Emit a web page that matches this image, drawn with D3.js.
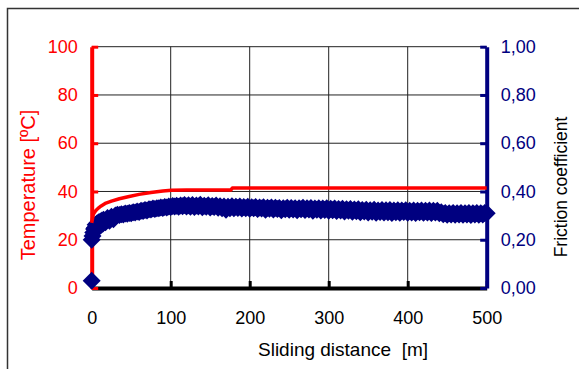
<!DOCTYPE html>
<html>
<head>
<meta charset="utf-8">
<script src="https://cdn.jsdelivr.net/npm/d3@7/dist/d3.min.js"></script>
<style>
  html, body { margin: 0; padding: 0; background: #fff; }
  svg { display: block; font-family: "Liberation Sans", Arial, sans-serif; }
</style>
</head>
<body>
<svg id="chart" width="579" height="369"></svg>
<script>
// Tick values for the three axes
const distanceTicks = [0, 100, 200, 300, 400, 500];
const temperatureTicks = [0, 20, 40, 60, 80, 100];
const frictionTicks = [0, 0.2, 0.4, 0.6, 0.8, 1.0];

// Temperature reading along the sliding distance
const tempDistance = [0, 2, 5, 8, 12, 18, 25, 35, 46, 60, 75, 90, 101, 120, 150, 176, 178, 250, 350, 450, 500];
const temperature  = [27, 30.5, 32, 33, 34, 35.2, 36, 37, 37.8, 38.8, 39.6, 40.2, 40.5, 40.6, 40.6, 40.6, 41.4, 41.4, 41.4, 41.4, 41.4];

// Friction coefficient samples along the sliding distance (running-in, then 2.5 m steps)
const frictionDistance = [
  0, 0, 1, 2, 3, 4, 5, 6, 7, 8, 9, 10, 11, 12, 13, 14, 15, 17.5, 20, 22.5, 25, 27.5,
  30, 32.5, 35, 37.5, 40, 42.5, 45, 47.5,
  50, 52.5, 55, 57.5, 60, 62.5, 65, 67.5,
  70, 72.5, 75, 77.5, 80, 82.5, 85, 87.5,
  90, 92.5, 95, 97.5, 100, 102.5, 105, 107.5,
  110, 112.5, 115, 117.5, 120, 122.5, 125, 127.5,
  130, 132.5, 135, 137.5, 140, 142.5, 145, 147.5,
  150, 152.5, 155, 157.5, 160, 162.5, 165, 167.5,
  170, 172.5, 175, 177.5, 180, 182.5, 185, 187.5,
  190, 192.5, 195, 197.5, 200, 202.5, 205, 207.5,
  210, 212.5, 215, 217.5, 220, 222.5, 225, 227.5,
  230, 232.5, 235, 237.5, 240, 242.5, 245, 247.5,
  250, 252.5, 255, 257.5, 260, 262.5, 265, 267.5,
  270, 272.5, 275, 277.5, 280, 282.5, 285, 287.5,
  290, 292.5, 295, 297.5, 300, 302.5, 305, 307.5,
  310, 312.5, 315, 317.5, 320, 322.5, 325, 327.5,
  330, 332.5, 335, 337.5, 340, 342.5, 345, 347.5,
  350, 352.5, 355, 357.5, 360, 362.5, 365, 367.5,
  370, 372.5, 375, 377.5, 380, 382.5, 385, 387.5,
  390, 392.5, 395, 397.5, 400, 402.5, 405, 407.5,
  410, 412.5, 415, 417.5, 420, 422.5, 425, 427.5,
  430, 432.5, 435, 437.5, 440, 442.5, 445, 447.5,
  450, 452.5, 455, 457.5, 460, 462.5, 465, 467.5,
  470, 472.5, 475, 477.5, 480, 482.5, 485, 487.5,
  490, 492.5, 495, 497.5, 500
];
const friction = [
  0.03, 0.20, 0.215, 0.23, 0.245, 0.25, 0.262, 0.245, 0.268, 0.252, 0.272, 0.258, 0.276, 0.262, 0.28, 0.266, 0.283, 0.272, 0.29, 0.279, 0.295, 0.285,
  0.300, 0.304, 0.303, 0.306, 0.305, 0.309, 0.308, 0.311,
  0.310, 0.314, 0.313, 0.317, 0.315, 0.320, 0.319, 0.323,
  0.321, 0.326, 0.325, 0.329, 0.327, 0.331, 0.330, 0.334,
  0.332, 0.336, 0.334, 0.338, 0.336, 0.340, 0.338, 0.341,
  0.337, 0.342, 0.339, 0.344, 0.338, 0.343, 0.337, 0.344,
  0.336, 0.342, 0.338, 0.345, 0.335, 0.341, 0.337, 0.343,
  0.334, 0.340, 0.336, 0.342, 0.333, 0.339, 0.330, 0.338,
  0.324, 0.337, 0.331, 0.339, 0.330, 0.337, 0.332, 0.338,
  0.329, 0.336, 0.331, 0.337, 0.328, 0.335, 0.330, 0.336,
  0.327, 0.334, 0.329, 0.335, 0.324, 0.333, 0.328, 0.334,
  0.325, 0.333, 0.327, 0.332, 0.322, 0.331, 0.326, 0.333,
  0.324, 0.332, 0.325, 0.331, 0.322, 0.330, 0.326, 0.333,
  0.323, 0.331, 0.325, 0.332, 0.320, 0.329, 0.324, 0.331,
  0.321, 0.329, 0.323, 0.330, 0.320, 0.328, 0.322, 0.329,
  0.319, 0.327, 0.321, 0.328, 0.317, 0.326, 0.320, 0.327,
  0.316, 0.325, 0.318, 0.326, 0.314, 0.323, 0.317, 0.324,
  0.313, 0.322, 0.316, 0.324, 0.312, 0.321, 0.315, 0.323,
  0.313, 0.322, 0.314, 0.323, 0.311, 0.321, 0.314, 0.322,
  0.312, 0.321, 0.315, 0.322, 0.312, 0.320, 0.313, 0.321,
  0.311, 0.320, 0.314, 0.321, 0.312, 0.320, 0.313, 0.321,
  0.311, 0.320, 0.313, 0.320, 0.310, 0.314, 0.306, 0.311,
  0.304, 0.310, 0.305, 0.311, 0.304, 0.310, 0.305, 0.311,
  0.304, 0.310, 0.305, 0.311, 0.303, 0.310, 0.305, 0.311,
  0.304, 0.310, 0.305, 0.311, 0.310
];

const W = 579, H = 369;
const margin = { top: 46.7, right: 92.3, bottom: 81, left: 91.7 };
const RED = "#ff0000", NAVY = "#000080";
const FONT = "'Liberation Sans', Arial, sans-serif";

const svg = d3.select("#chart");

const x = d3.scaleLinear().domain([0, 500]).range([margin.left, W - margin.right]);
const yT = d3.scaleLinear().domain([0, 100]).range([H - margin.bottom, margin.top]);
const yF = d3.scaleLinear().domain([0, 1]).range([H - margin.bottom, margin.top]);

const comma = d3.formatLocale({ decimal: ",", thousands: ".", grouping: [3], currency: ["", ""] });
const fmtF = comma.format(".2f");

// Outer frame (left and top edges)
svg.append("path")
  .attr("d", `M7.5,${H} V8.5 H${W}`)
  .attr("fill", "none").attr("stroke", "#333").attr("stroke-width", 1.5);

// Gridlines
const grid = svg.append("g").attr("stroke", "#222").attr("stroke-width", 1);
grid.selectAll("line.h").data(temperatureTicks.filter(d => d > 0)).join("line")
  .attr("x1", x(0)).attr("x2", x(500))
  .attr("y1", d => yT(d)).attr("y2", d => yT(d));
grid.selectAll("line.v").data(distanceTicks.filter(d => d > 0 && d < 500)).join("line")
  .attr("y1", yT(0)).attr("y2", yT(100))
  .attr("x1", d => x(d)).attr("x2", d => x(d));

// Bottom axis (sliding distance)
const xAxis = svg.append("g")
  .attr("transform", `translate(0,${yT(0)})`)
  .call(d3.axisBottom(x).tickValues(distanceTicks).tickFormat(d3.format("d"))
    .tickSizeInner(-7).tickSizeOuter(0).tickPadding(23.5));
xAxis.select(".domain").attr("stroke", "#000").attr("stroke-width", 4);
xAxis.selectAll(".tick line").attr("stroke", "#000").attr("stroke-width", 3);
xAxis.selectAll(".tick text").attr("fill", "#000").style("font-size", "18px").style("font-family", FONT);

// Left axis (temperature)
const yAxisL = svg.append("g")
  .attr("transform", `translate(${x(0)},0)`)
  .call(d3.axisLeft(yT).tickValues(temperatureTicks).tickFormat(d3.format("d"))
    .tickSizeInner(-6.5).tickSizeOuter(0).tickPadding(14));
yAxisL.select(".domain").attr("stroke", RED).attr("stroke-width", 4);
yAxisL.selectAll(".tick line").attr("stroke", RED).attr("stroke-width", 3);
yAxisL.selectAll(".tick text").attr("fill", RED).style("font-size", "18px").style("font-family", FONT);

// Right axis (friction coefficient)
const yAxisR = svg.append("g")
  .attr("transform", `translate(${x(500)},0)`)
  .call(d3.axisRight(yF).tickValues(frictionTicks).tickFormat(fmtF)
    .tickSizeInner(-6.5).tickSizeOuter(0).tickPadding(14));
yAxisR.select(".domain").attr("stroke", NAVY).attr("stroke-width", 4);
yAxisR.selectAll(".tick line").attr("stroke", NAVY).attr("stroke-width", 3);
yAxisR.selectAll(".tick text").attr("fill", NAVY).style("font-size", "18px").style("font-family", FONT);

// Friction coefficient markers (diamonds)
const diamond = d3.symbol().type(d3.symbolSquare).size(162);
svg.append("g").selectAll("path")
  .data(frictionDistance.map((d, i) => [d, friction[i]]))
  .join("path")
  .attr("d", diamond)
  .attr("transform", d => `translate(${x(d[0])},${yF(d[1])}) rotate(45)`)
  .attr("fill", NAVY);

// Temperature curve
const line = d3.line().x(d => x(d[0])).y(d => yT(d[1]));
svg.append("path")
  .datum(tempDistance.map((d, i) => [d, temperature[i]]))
  .attr("d", line)
  .attr("fill", "none").attr("stroke", RED).attr("stroke-width", 3.5)
  .attr("stroke-linejoin", "round");

// Axis titles
svg.append("text")
  .attr("transform", `translate(34.5,185) rotate(-90)`)
  .attr("text-anchor", "middle").attr("fill", RED)
  .style("font-size", "20px")
  .text("Temperature [ºC]");

svg.append("text")
  .attr("transform", `translate(567,187) rotate(-90)`)
  .attr("text-anchor", "middle").attr("fill", "#000")
  .style("font-size", "17.5px")
  .text("Friction coefficient");

svg.append("text")
  .attr("x", 343).attr("y", 356)
  .attr("text-anchor", "middle").attr("fill", "#000")
  .style("font-size", "19px")
  .style("white-space", "pre")
  .attr("xml:space", "preserve")
  .text("Sliding distance  [m]");
</script>
</body>
</html>
